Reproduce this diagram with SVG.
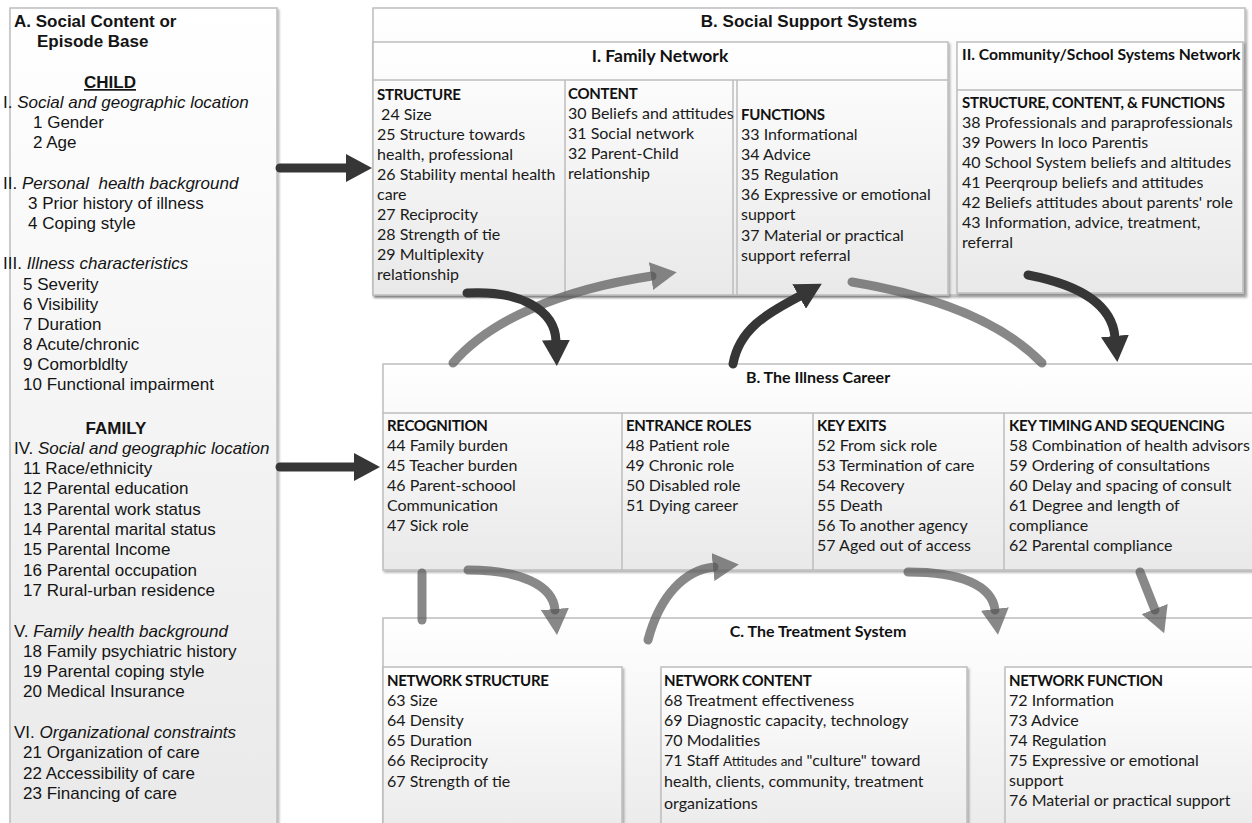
<svg xmlns="http://www.w3.org/2000/svg" width="1252" height="823" viewBox="0 0 1252 823">
<defs>
<linearGradient id="g" x1="0" y1="0" x2="0" y2="1"><stop offset="0" stop-color="#ffffff"/><stop offset="1" stop-color="#e9e9e9"/></linearGradient>
<filter id="sh" x="-5%" y="-5%" width="110%" height="110%"><feDropShadow dx="1.5" dy="2" stdDeviation="1.2" flood-color="#000" flood-opacity="0.3"/></filter>
<marker id="ad" viewBox="0 0 26 28" refX="1" refY="14" markerWidth="26" markerHeight="28" markerUnits="userSpaceOnUse" orient="auto"><path d="M0,0 L26,14 L0,28 Z" fill="#363636"/></marker>
<marker id="ag" viewBox="0 0 26 28" refX="1" refY="14" markerWidth="26" markerHeight="28" markerUnits="userSpaceOnUse" orient="auto"><path d="M0,0 L26,14 L0,28 Z" fill="#555" fill-opacity="0.7"/></marker>
</defs>
<style>
.box{fill:url(#g);stroke:#bdbdbd;stroke-width:1.5;filter:url(#sh)}
.ln{stroke:#bdbdbd;stroke-width:1.5;fill:none}
.a{font-family:"Liberation Sans",Arial,sans-serif;font-size:17px;fill:#141414;white-space:pre}
.ab{font-family:"Liberation Sans",Arial,sans-serif;font-size:17px;font-weight:bold;fill:#141414}
.i{font-style:italic}
.c{font-family:Lato,"Noto Sans",sans-serif;font-size:16px;fill:#1a1a1a;white-space:pre}
.cb{font-family:Lato,"Noto Sans",sans-serif;font-size:16px;font-weight:bold;fill:#111}
.ch{font-family:Lato,"Noto Sans",sans-serif;font-size:15px;font-weight:bold;fill:#111;letter-spacing:-0.3px}
.dk{fill:none;stroke:#363636;stroke-width:9;stroke-linecap:round;marker-end:url(#ad)}
.gr{fill:none;stroke:#555;stroke-opacity:0.7;stroke-width:9;stroke-linecap:round}
.gra{marker-end:url(#ag)}
</style>

<g id="nodeA">
<rect class="box" x="10" y="8" width="267" height="830"/>
<text class="ab" x="14" y="27">A. Social Content or</text>
<text class="ab" x="37" y="47">Episode Base</text>
<text class="ab" x="110" y="88" text-anchor="middle" text-decoration="underline">CHILD</text>
<text class="a" x="3" y="108">I. <tspan class="i">Social and geographic location</tspan></text>
<text class="a" x="33" y="128">1 Gender</text>
<text class="a" x="33" y="148">2 Age</text>
<text class="a" x="3" y="189">II. <tspan class="i">Personal  health background</tspan></text>
<text class="a" x="28" y="209">3 Prior history of illness</text>
<text class="a" x="28" y="229">4 Coping style</text>
<text class="a" x="3" y="269">III. <tspan class="i">Illness characteristics</tspan></text>
<text class="a" x="23" y="290">5 Severity</text>
<text class="a" x="23" y="310">6 Visibility</text>
<text class="a" x="23" y="330">7 Duration</text>
<text class="a" x="23" y="350">8 Acute/chronic</text>
<text class="a" x="23" y="370">9 Comorbldlty</text>
<text class="a" x="23" y="390">10 Functional impairment</text>
<text class="ab" x="116" y="434" text-anchor="middle">FAMILY</text>
<text class="a" x="14" y="454">IV. <tspan class="i">Social and geographic location</tspan></text>
<text class="a" x="23" y="474">11 Race/ethnicity</text>
<text class="a" x="23" y="494">12 Parental education</text>
<text class="a" x="23" y="515">13 Parental work status</text>
<text class="a" x="23" y="535">14 Parental marital status</text>
<text class="a" x="23" y="555">15 Parental Income</text>
<text class="a" x="23" y="576">16 Parental occupation</text>
<text class="a" x="23" y="596">17 Rural-urban residence</text>
<text class="a" x="14" y="637">V. <tspan class="i">Family health background</tspan></text>
<text class="a" x="23" y="657">18 Family psychiatric history</text>
<text class="a" x="23" y="677">19 Parental coping style</text>
<text class="a" x="23" y="697">20 Medical Insurance</text>
<text class="a" x="14" y="738">VI. <tspan class="i">Organizational constraints</tspan></text>
<text class="a" x="23" y="758">21 Organization of care</text>
<text class="a" x="23" y="779">22 Accessibility of care</text>
<text class="a" x="23" y="799">23 Financing of care</text>
</g>

<g id="nodeB-social">
<rect class="box" x="373" y="8" width="872" height="287"/>
<text class="ab" x="809" y="27" text-anchor="middle">B. Social Support Systems</text>
</g>

<g id="nodeB1-family">
<rect class="box" x="373" y="42" width="575" height="253"/>
<line class="ln" x1="373" y1="80" x2="948" y2="80"/>
<line class="ln" x1="565" y1="80" x2="565" y2="295"/>
<line class="ln" x1="733" y1="80" x2="733" y2="295"/>
<line class="ln" x1="737" y1="80" x2="737" y2="295"/>
<text class="cb" x="660" y="62" text-anchor="middle" style="font-size:17.5px">I. Family Network</text>
<text class="ch" x="377" y="100">STRUCTURE</text>
<text class="c" x="377" y="120"> 24 Size</text>
<text class="c" x="377" y="140">25 Structure towards</text>
<text class="c" x="377" y="160">health, professional</text>
<text class="c" x="377" y="180">26 Stability mental health</text>
<text class="c" x="377" y="200">care</text>
<text class="c" x="377" y="220">27 Reciprocity</text>
<text class="c" x="377" y="240">28 Strength of tie</text>
<text class="c" x="377" y="260">29 Multiplexity</text>
<text class="c" x="377" y="280">relationship</text>
<text class="ch" x="568" y="99">CONTENT</text>
<text class="c" x="568" y="119">30 Beliefs and attitudes</text>
<text class="c" x="568" y="139">31 Social network</text>
<text class="c" x="568" y="159">32 Parent-Child</text>
<text class="c" x="568" y="179">relationship</text>
<text class="ch" x="741" y="120">FUNCTIONS</text>
<text class="c" x="741" y="140">33 Informational</text>
<text class="c" x="741" y="160">34 Advice</text>
<text class="c" x="741" y="180">35 Regulation</text>
<text class="c" x="741" y="200">36 Expressive or emotional</text>
<text class="c" x="741" y="220">support</text>
<text class="c" x="741" y="241">37 Material or practical</text>
<text class="c" x="741" y="261">support referral</text>
</g>

<g id="nodeB2-community">
<rect class="box" x="957" y="42" width="286" height="251"/>
<line class="ln" x1="957" y1="90" x2="1243" y2="90"/>
<text class="cb" x="962" y="60" style="font-size:15.7px">II. Community/School Systems Network</text>
<text class="ch" x="962" y="108">STRUCTURE, CONTENT, &amp; FUNCTIONS</text>
<text class="c" x="962" y="128">38 Professionals and paraprofessionals</text>
<text class="c" x="962" y="148">39 Powers In loco Parentis</text>
<text class="c" x="962" y="168">40 School System beliefs and altitudes</text>
<text class="c" x="962" y="188">41 Peerqroup beliefs and attitudes</text>
<text class="c" x="962" y="208">42 Beliefs attitudes about parents' role</text>
<text class="c" x="962" y="228">43 Information, advice, treatment,</text>
<text class="c" x="962" y="248">referral</text>
</g>

<g id="nodeB-illness">
<rect class="box" x="383" y="364" width="875" height="206"/>
<line class="ln" x1="383" y1="413" x2="1252" y2="413"/>
<line class="ln" x1="622" y1="413" x2="622" y2="570"/>
<line class="ln" x1="813" y1="413" x2="813" y2="570"/>
<line class="ln" x1="1004" y1="413" x2="1004" y2="570"/>
<text class="cb" x="818" y="383" text-anchor="middle">B. The Illness Career</text>
<text class="ch" x="387" y="431">RECOGNITION</text>
<text class="c" x="387" y="451">44 Family burden</text>
<text class="c" x="387" y="471">45 Teacher burden</text>
<text class="c" x="387" y="491">46 Parent-schoool</text>
<text class="c" x="387" y="511">Communication</text>
<text class="c" x="387" y="531">47 Sick role</text>
<text class="ch" x="626" y="431">ENTRANCE ROLES</text>
<text class="c" x="626" y="451">48 Patient role</text>
<text class="c" x="626" y="471">49 Chronic role</text>
<text class="c" x="626" y="491">50 Disabled role</text>
<text class="c" x="626" y="511">51 Dying career</text>
<text class="ch" x="817" y="431">KEY EXITS</text>
<text class="c" x="817" y="451">52 From sick role</text>
<text class="c" x="817" y="471">53 Termination of care</text>
<text class="c" x="817" y="491">54 Recovery</text>
<text class="c" x="817" y="511">55 Death</text>
<text class="c" x="817" y="531">56 To another agency</text>
<text class="c" x="817" y="551">57 Aged out of access</text>
<text class="ch" x="1009" y="431">KEY TIMING AND SEQUENCING</text>
<text class="c" x="1009" y="451">58 Combination of health advisors</text>
<text class="c" x="1009" y="471">59 Ordering of consultations</text>
<text class="c" x="1009" y="491">60 Delay and spacing of consult</text>
<text class="c" x="1009" y="511">61 Degree and length of</text>
<text class="c" x="1009" y="531">compliance</text>
<text class="c" x="1009" y="551">62 Parental compliance</text>
</g>

<g id="nodeC-treatment">
<rect class="box" x="383" y="618" width="875" height="230"/>
<text class="cb" x="818" y="637" text-anchor="middle">C. The Treatment System</text>
<rect class="box" x="383" y="667" width="239" height="180"/>
<text class="ch" x="387" y="686">NETWORK STRUCTURE</text>
<text class="c" x="387" y="706">63 Size</text>
<text class="c" x="387" y="726">64 Density</text>
<text class="c" x="387" y="746">65 Duration</text>
<text class="c" x="387" y="766">66 Reciprocity</text>
<text class="c" x="387" y="787">67 Strength of tie</text>
<rect class="box" x="661" y="667" width="306" height="180"/>
<text class="ch" x="664" y="686">NETWORK CONTENT</text>
<text class="c" x="664" y="706">68 Treatment effectiveness</text>
<text class="c" x="664" y="726">69 Diagnostic capacity, technology</text>
<text class="c" x="664" y="746">70 Modalities</text>
<text class="c" x="664" y="766">71 Staff <tspan font-size="13.5">Attitudes and</tspan> "culture" toward</text>
<text class="c" x="664" y="787">health, clients, community, treatment</text>
<text class="c" x="664" y="809">organizations</text>
<rect class="box" x="1005" y="667" width="253" height="180"/>
<text class="ch" x="1009" y="686">NETWORK FUNCTION</text>
<text class="c" x="1009" y="706">72 Information</text>
<text class="c" x="1009" y="726">73 Advice</text>
<text class="c" x="1009" y="746">74 Regulation</text>
<text class="c" x="1009" y="766">75 Expressive or emotional</text>
<text class="c" x="1009" y="786">support</text>
<text class="c" x="1009" y="806">76 Material or practical support</text>
</g>

<g id="connectors">
<path class="dk" d="M280,168 L347,168"/>
<path class="dk" d="M280,467 L355,467"/>
<path class="gr gra" d="M453,363 C490,320 560,290 652,276"/>
<path class="dk" d="M467,293 C520,290 555,310 556,341"/>
<path class="dk" d="M733,364 C740,325 775,310 800,296"/>
<path class="gr" d="M852,282 C930,295 1000,320 1042,363"/>
<path class="dk" d="M1028,275 C1080,285 1112,305 1115,337"/>
<path class="gr" d="M422,573 L422,620"/>
<path class="gr gra" d="M468,570 C520,570 553,585 555,610"/>
<path class="gr gra" d="M648,640 C660,595 685,570 714,567"/>
<path class="gr gra" d="M908,572 C960,572 992,585 995,610"/>
<path class="gr gra" d="M1140,572 L1155,610"/>
</g>
</svg>
